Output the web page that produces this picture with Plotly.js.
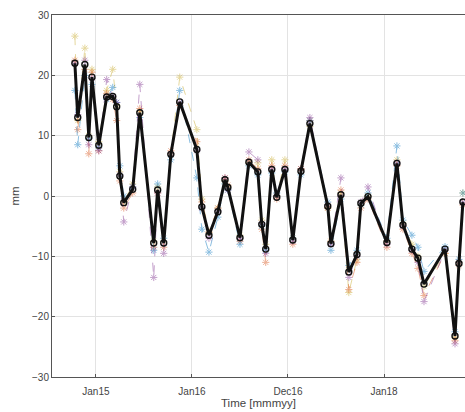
<!DOCTYPE html>
<html>
<head>
<meta charset="utf-8">
<script src="https://cdn.plot.ly/plotly-3.0.1.min.js"></script>
<style>html,body{margin:0;padding:0;background:#fff;}#chart{width:465px;height:412px;}</style>
</head>
<body>
<div id="chart"></div>
<script>
const dates = ['2014-10-13','2014-10-24','2014-11-20','2014-12-05','2014-12-17','2015-01-12','2015-02-11','2015-03-06','2015-03-21','2015-04-02',
'2015-04-17','2015-05-21','2015-06-17','2015-08-09','2015-08-24','2015-09-16','2015-10-13','2015-11-16','2016-01-20','2016-02-08',
'2016-03-06','2016-04-09','2016-05-06','2016-05-17','2016-07-02','2016-08-05','2016-09-08','2016-09-23','2016-10-08','2016-10-31',
'2016-11-19','2016-12-20','2017-01-19','2017-02-19','2017-03-25','2017-06-01','2017-06-13','2017-07-21','2017-08-20','2017-09-20',
'2017-10-05','2017-11-01','2018-01-12','2018-02-19','2018-03-14','2018-04-17','2018-05-10','2018-06-02','2018-08-21','2018-09-28',
'2018-10-13','2018-10-28'];

const meanSeries = [22.0,13.0,21.8,9.7,19.7,8.4,16.4,16.5,14.8,3.3,-1.1,1.1,13.8,-7.8,1.0,-7.8,6.9,15.6,7.7,-1.8,-6.5,-2.6,2.7,1.4,-6.9,5.6,4.0,-4.7,-8.8,4.4,-0.2,4.4,-7.3,4.1,12.0,-1.7,-7.9,0.2,-12.6,-9.7,-1.2,-0.1,-7.7,5.4,-4.8,-8.8,-10.3,-14.6,-8.8,-23.2,-11.2,-1.0];

const seriesBlue = [17.5,8.5,20.0,9.5,18.5,8.0,16.0,18.0,15.5,5.0,0.0,1.5,13.0,-9.0,2.0,-7.0,6.0,17.5,3.0,-5.5,-9.3,-3.5,2.0,1.0,-8.0,5.0,3.5,-5.0,-9.0,3.8,0.5,4.0,-7.0,3.5,12.5,-1.0,-9.0,-0.5,-11.5,-9.0,-1.5,0.5,-7.0,8.3,-4.0,-6.5,-8.5,-12.5,-8.4,-22.5,-10.5,0.5];
const seriesOrange = [22.5,11.0,21.0,7.0,20.5,7.5,17.0,16.0,12.5,2.5,-2.0,0.5,14.5,-8.5,0.5,-8.5,7.5,15.0,9.0,-1.0,-6.0,-2.0,3.0,1.8,-7.5,6.0,4.5,-5.5,-11.0,5.0,-0.5,5.0,-8.0,4.5,12.5,-2.0,-7.5,1.0,-15.5,-11.0,-2.0,-0.5,-8.5,5.0,-5.5,-9.5,-12.0,-16.5,-9.5,-24.0,-11.5,-1.5];
const seriesPurple = [22.0,13.5,22.5,8.5,19.5,7.5,19.3,16.5,15.5,3.5,-4.3,1.5,18.5,-13.5,0.5,-9.5,7.0,15.5,7.5,-2.0,-7.0,-2.5,3.0,1.0,-7.0,7.3,6.0,-4.5,-9.5,4.5,0.0,4.5,-7.5,4.5,13.0,-1.5,-8.0,3.0,-13.5,-10.0,-1.0,1.5,-8.0,5.5,-5.0,-9.0,-11.0,-17.5,-9.0,-24.5,-11.0,-1.0];
const seriesYellow = [26.5,12.5,24.5,10.0,21.0,9.0,17.5,21.0,15.0,4.0,-1.0,2.0,14.0,-7.5,1.5,-7.5,7.0,19.7,11.0,-0.5,-6.0,-2.0,2.5,1.5,-6.5,5.5,5.5,-4.0,-8.0,6.0,0.0,6.0,-7.0,4.5,11.5,-2.0,-7.5,0.5,-16.0,-10.5,-1.5,0.0,-7.5,6.0,-4.5,-8.0,-10.0,-15.0,-9.5,-23.5,-11.0,0.5];

const tickDates = ['2015-01-01','2016-01-01 08:00','2016-12-31 16:00','2018-01-01'];
const tickLabels = ['Jan15','Jan16','Dec16','Jan18'];

function colored(y, color) {
  return {x: dates, y: y, type: 'scatter', mode: 'lines+markers', opacity: 0.45,
    line: {color: color, width: 1, dash: 'dash'},
    marker: {symbol: 'asterisk-open', size: 6, color: color, line: {color: color, width: 1}},
    hoverinfo: 'skip', showlegend: false};
}

const traces = [
  colored(seriesYellow, 'rgb(200,170,40)'),
  colored(seriesOrange, 'rgb(217,83,25)'),
  colored(seriesBlue, 'rgb(0,114,189)'),
  colored(seriesPurple, 'rgb(126,47,142)'),
  {x: dates, y: meanSeries, type: 'scatter', mode: 'lines+markers',
   line: {color: '#111', width: 3},
   marker: {symbol: 'circle-open', size: 6, color: '#111', line: {color: '#111', width: 1.4}},
   showlegend: false}
];

const axisFont = {family: 'Liberation Sans, Arial, sans-serif', size: 10, color: '#444'};

const layout = {
  width: 465, height: 412,
  margin: {l: 52, r: 0, t: 15, b: 35},
  paper_bgcolor: '#fff', plot_bgcolor: '#fff',
  showlegend: false,
  xaxis: {
    type: 'date',
    range: ['2014-07-18', '2018-11-05'],
    tickvals: tickDates, ticktext: tickLabels,
    showgrid: true, gridcolor: '#e3e3e3', gridwidth: 1,
    zeroline: false, showline: true, linecolor: '#555', linewidth: 1, mirror: true,
    ticks: 'inside', ticklen: 3, tickcolor: '#555',
    ticklabelstandoff: 5,
    tickfont: axisFont,
    title: {text: 'Time [mmmyy]', font: {family: 'Liberation Sans, Arial, sans-serif', size: 11.5, color: '#444'}, standoff: 2}
  },
  yaxis: {
    range: [-30, 30],
    tickvals: [-30, -20, -10, 0, 10, 20, 30],
    showgrid: true, gridcolor: '#e3e3e3', gridwidth: 1,
    zeroline: false, showline: true, linecolor: '#555', linewidth: 1, mirror: false,
    ticks: 'inside', ticklen: 3, tickcolor: '#555',
    tickfont: axisFont,
    title: {text: 'mm', font: {family: 'Liberation Sans, Arial, sans-serif', size: 11.5, color: '#444'}, standoff: 10}
  }
};

Plotly.newPlot('chart', traces, layout, {displayModeBar: false, staticPlot: true});
</script>
</body>
</html>
